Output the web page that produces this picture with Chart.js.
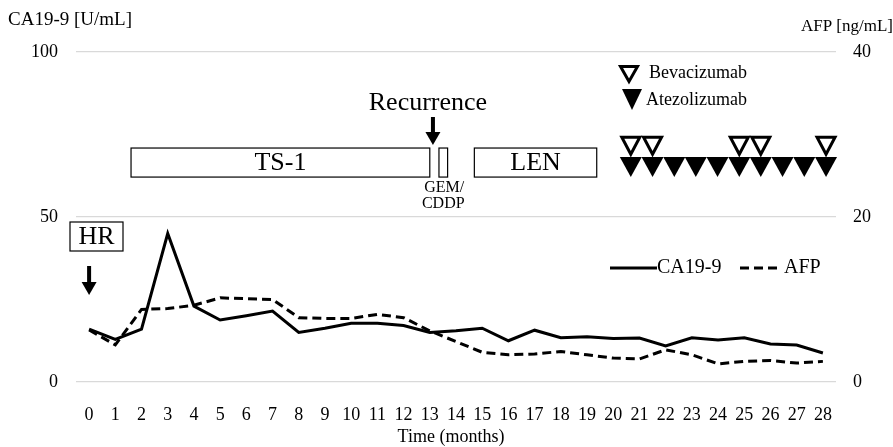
<!DOCTYPE html>
<html>
<head>
    <title>CA19-9 / AFP</title>
    <script src="https://cdn.jsdelivr.net/npm/chart.js"></script>
    <style>
        body { margin: 0; background: #fff; }
        #wrap { width: 893px; height: 447px; }
    </style>
</head>
<body>
    <div id="wrap"><canvas id="myChart"></canvas></div>

    <script>
        // months
        const months = [0, 1, 2, 3, 4, 5, 6, 7, 8, 9, 10, 11, 12, 13, 14, 15, 16, 17, 18, 19, 20, 21, 22, 23, 24, 25, 26, 27, 28];
        // CA19-9 [U/mL], left axis
        const ca199 = [16.0, 12.9, 16.0, 45.0, 23.0, 18.8, 20.1, 21.5, 15.0, 16.3, 17.8, 17.8, 17.1, 15.0, 15.5, 16.3, 12.5, 15.7, 13.4, 13.7, 13.2, 13.3, 10.9, 13.4, 12.7, 13.4, 11.5, 11.2, 8.8];
        // AFP [ng/mL], right axis
        const afp = [6.3, 4.5, 8.8, 8.9, 9.3, 10.2, 10.1, 10.0, 7.8, 7.7, 7.7, 8.2, 7.8, 6.2, 4.9, 3.6, 3.3, 3.4, 3.7, 3.3, 2.9, 2.8, 3.9, 3.3, 2.2, 2.5, 2.6, 2.3, 2.5];

        const leftTicks = [0, 50, 100];
        const rightTicks = [0, 20, 40];

        // treatment bars (months)
        const therapyNames = ['TS-1', '', 'LEN'];
        const therapyStart = [1.6, 13.35, 14.7];
        const therapyEnd = [13.0, 13.68, 19.37];
        // infusions (months)
        const atezolizumab = [20.67, 21.5, 22.33, 23.15, 23.98, 24.81, 25.63, 26.46, 27.29, 28.12];
        const bevacizumab = [20.67, 21.5, 24.81, 25.63, 28.12];
        // events (months)
        const hrMonth = 0;
        const recurrenceMonth = 13.12;

        const serif = "'Liberation Serif', 'Times New Roman', serif";

        function arrow(ctx, x, y0, y1) {
            ctx.fillStyle = '#000';
            ctx.fillRect(x - 2, y0, 4, y1 - y0 - 10);
            ctx.beginPath();
            ctx.moveTo(x - 7.5, y1 - 13);
            ctx.lineTo(x + 7.5, y1 - 13);
            ctx.lineTo(x, y1);
            ctx.closePath();
            ctx.fill();
        }

        function tri(ctx, cx, top, w, h, filled) {
            ctx.beginPath();
            ctx.moveTo(cx - w / 2, top);
            ctx.lineTo(cx + w / 2, top);
            ctx.lineTo(cx, top + h);
            ctx.closePath();
            if (filled) {
                ctx.fill();
            } else {
                ctx.lineWidth = 3;
                ctx.lineJoin = 'miter';
                ctx.stroke();
            }
        }

        const annotations = {
            id: 'annotations',
            afterDatasetsDraw(chart) {
                const ctx = chart.ctx;
                const x = chart.scales.x;
                const y = chart.scales.y;
                ctx.save();
                ctx.fillStyle = '#000';
                ctx.strokeStyle = '#000';
                ctx.textBaseline = 'middle';

                // axis titles
                ctx.font = '19px ' + serif;
                ctx.textAlign = 'left';
                ctx.fillText('CA19-9 [U/mL]', 8, 20);
                ctx.font = '17px ' + serif;
                ctx.textAlign = 'right';
                ctx.fillText('AFP [ng/mL]', 893, 27);
                ctx.font = '18px ' + serif;
                ctx.textAlign = 'center';
                ctx.fillText('Time (months)', (x.left + x.right) / 2 - 5, 437);

                // treatment boxes
                const bTop = y.getPixelForValue(70.9);
                const bBot = y.getPixelForValue(62.1);
                ctx.lineWidth = 1.2;
                ctx.font = '26px ' + serif;
                for (let i = 0; i < therapyNames.length; i++) {
                    const x0 = x.getPixelForValue(therapyStart[i]);
                    const x1 = x.getPixelForValue(therapyEnd[i]);
                    ctx.strokeRect(x0, bTop, x1 - x0, bBot - bTop);
                    if (therapyNames[i]) {
                        ctx.fillText(therapyNames[i], (x0 + x1) / 2, (bTop + bBot) / 2 + 1);
                    }
                }
                const gx = x.getPixelForValue((therapyStart[1] + therapyEnd[1]) / 2);
                ctx.font = '16px ' + serif;
                ctx.fillText('GEM/', gx + 1, bBot + 11);
                ctx.fillText('CDDP', gx, bBot + 27);

                // Recurrence
                const rx = x.getPixelForValue(recurrenceMonth);
                ctx.font = '26px ' + serif;
                ctx.fillText('Recurrence', rx - 5, 103);
                arrow(ctx, rx, 117, 145);

                // HR
                const hx = x.getPixelForValue(hrMonth);
                ctx.lineWidth = 1.2;
                ctx.strokeRect(70, 222, 53, 29);
                ctx.font = '26px ' + serif;
                ctx.fillText('HR', 96.5, 237.5);
                arrow(ctx, hx, 266, 295);

                // infusion triangles
                const fTop = y.getPixelForValue(68.2);
                const oTop = y.getPixelForValue(74.6);
                atezolizumab.forEach(m => tri(ctx, x.getPixelForValue(m), fTop, 22, 20, true));
                bevacizumab.forEach(m => tri(ctx, x.getPixelForValue(m), oTop + 1.5, 18, 17, false));

                // triangle legend
                tri(ctx, 629, 66.5, 17, 15, false);
                tri(ctx, 632, 89, 20, 21, true);
                ctx.font = '18px ' + serif;
                ctx.textAlign = 'left';
                ctx.fillText('Bevacizumab', 649, 73);
                ctx.fillText('Atezolizumab', 646, 100);

                // series legend
                const ds = chart.data.datasets;
                ctx.lineWidth = 3;
                ctx.beginPath();
                ctx.setLineDash([]);
                ctx.moveTo(610, 268);
                ctx.lineTo(657, 268);
                ctx.stroke();
                ctx.beginPath();
                ctx.setLineDash(ds[1].borderDash);
                ctx.moveTo(740, 268);
                ctx.lineTo(778, 268);
                ctx.stroke();
                ctx.setLineDash([]);
                ctx.font = '20px ' + serif;
                ctx.fillText(ds[0].label, 657, 268);
                ctx.fillText(ds[1].label, 784, 268);

                ctx.restore();
            }
        };

        const tickFont = { family: serif, size: 18 };

        new Chart(document.getElementById('myChart'), {
            type: 'line',
            data: {
                labels: months,
                datasets: [
                    {
                        label: 'CA19-9',
                        data: ca199,
                        yAxisID: 'y',
                        borderColor: '#000',
                        borderWidth: 3,
                        pointRadius: 0,
                        tension: 0,
                        fill: false
                    },
                    {
                        label: 'AFP',
                        data: afp,
                        yAxisID: 'y1',
                        borderColor: '#000',
                        borderWidth: 3,
                        borderDash: [9, 5],
                        pointRadius: 0,
                        tension: 0,
                        fill: false
                    }
                ]
            },
            options: {
                responsive: true,
                maintainAspectRatio: false,
                animation: false,
                layout: { padding: { top: 52, left: 0, right: 0, bottom: 0 } },
                plugins: {
                    legend: { display: false },
                    tooltip: { enabled: false }
                },
                scales: {
                    x: {
                        type: 'category',
                        offset: true,
                        grid: { display: false },
                        border: { display: false },
                        ticks: { color: '#000', font: tickFont, padding: 14, maxRotation: 0, autoSkip: false },
                        afterFit: s => { s.height = 65; }
                    },
                    y: {
                        position: 'left',
                        min: 0,
                        max: 100,
                        afterBuildTicks: s => { s.ticks = leftTicks.map(v => ({ value: v })); },
                        grid: { color: '#d9d9d9', lineWidth: 1.2, drawTicks: false },
                        border: { display: false },
                        ticks: { color: '#000', font: tickFont, padding: 18 },
                        afterFit: s => { s.width = 76; }
                    },
                    y1: {
                        position: 'right',
                        min: 0,
                        max: 40,
                        afterBuildTicks: s => { s.ticks = rightTicks.map(v => ({ value: v })); },
                        grid: { drawOnChartArea: false, drawTicks: false },
                        border: { display: false },
                        ticks: { color: '#000', font: tickFont, padding: 17 },
                        afterFit: s => { s.width = 57; }
                    }
                }
            },
            plugins: [annotations]
        });
    </script>
</body>
</html>
